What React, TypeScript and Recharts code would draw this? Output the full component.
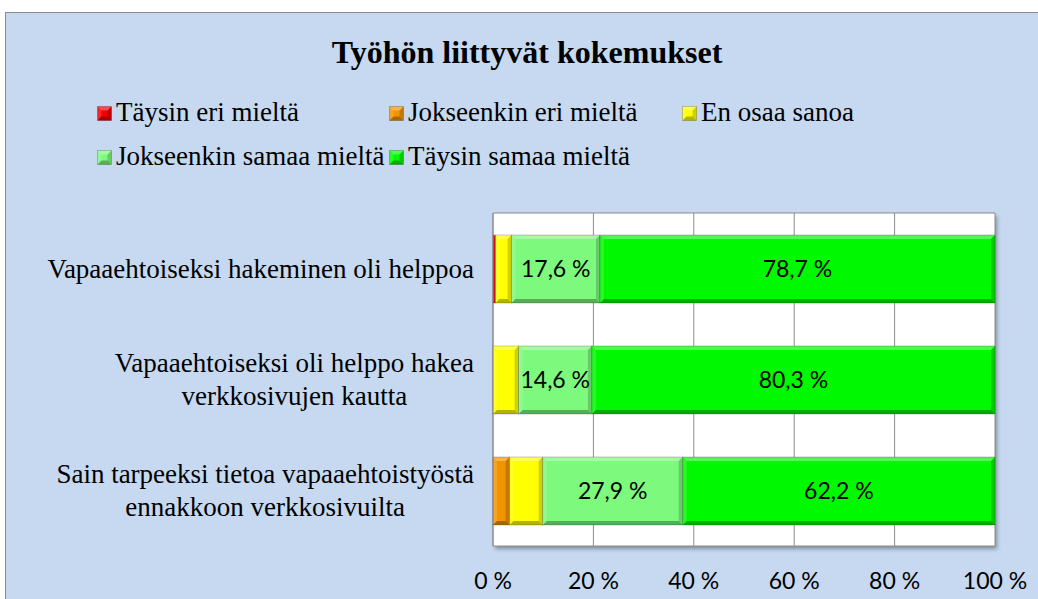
// Työhön liittyvät kokemukset – 100 % stacked horizontal bars
import React from "react";
import {
  BarChart,
  Bar,
  XAxis,
  YAxis,
  CartesianGrid,
  LabelList,
} from "recharts";

const categories = [
  "Vapaaehtoiseksi hakeminen oli helppoa",
  "Vapaaehtoiseksi oli helppo hakea\nverkkosivujen kautta",
  "Sain tarpeeksi tietoa vapaaehtoistyöstä\nennakkoon verkkosivuilta",
];

const seriesNames = [
  "Täysin eri mieltä",
  "Jokseenkin eri mieltä",
  "En osaa sanoa",
  "Jokseenkin samaa mieltä",
  "Täysin samaa mieltä",
];
const seriesColors = ["#F00000", "#F29400", "#FFFF00", "#7DFA7D", "#00F800"];

const taysinEri = [0.5, 0, 0];
const jokseenkinEri = [0, 0, 3.3];
const enOsaa = [3.2, 5.1, 6.6];
const jokseenkinSamaa = [17.6, 14.6, 27.9];
const taysinSamaa = [78.7, 80.3, 62.2];

const xTicks = [0, 20, 40, 60, 80, 100];

const seriesValues = [taysinEri, jokseenkinEri, enOsaa, jokseenkinSamaa, taysinSamaa];
const data = categories.map((name, i) => {
  const row: Record<string, number | string> = { name };
  seriesValues.forEach((vals, s) => (row["s" + s] = vals[i]));
  return row;
});

const serif = "'Liberation Serif', 'Times New Roman', serif";
const sans = "Lato, 'Open Sans', sans-serif";

// bevelled rectangle like the Excel 3D bar style
function BevelBar(props: any) {
  const { x, y, width, height, fill } = props;
  if (!width || width <= 0.3) return null;
  const b = Math.min(4, width / 2, height / 2);
  const r = x + width;
  const btm = y + height;
  return (
    <g>
      <rect x={x} y={y} width={width} height={height} fill={fill} />
      <polygon
        points={`${x},${y} ${r},${y} ${r - b},${y + b} ${x + b},${y + b}`}
        fill="#fff"
        fillOpacity={0.3}
      />
      <polygon
        points={`${x},${y} ${x + b},${y + b} ${x + b},${btm - b} ${x},${btm}`}
        fill="#fff"
        fillOpacity={0.15}
      />
      <polygon
        points={`${r},${y} ${r},${btm} ${r - b},${btm - b} ${r - b},${y + b}`}
        fill="#000"
        fillOpacity={0.18}
      />
      <polygon
        points={`${x},${btm} ${r},${btm} ${r - b},${btm - b} ${x + b},${btm - b}`}
        fill="#000"
        fillOpacity={0.3}
      />
      <rect
        x={x}
        y={y}
        width={width}
        height={height}
        fill="none"
        stroke="#000"
        strokeOpacity={0.25}
        strokeWidth={0.8}
      />
    </g>
  );
}

let measureCtx: CanvasRenderingContext2D | null = null;
function textWidth(t: string, font: string) {
  if (!measureCtx) measureCtx = document.createElement("canvas").getContext("2d");
  if (!measureCtx) return t.length * 10;
  measureCtx.font = font;
  return measureCtx.measureText(t).width;
}

function CategoryTick(props: any) {
  const { x, y, payload } = props;
  const lines = String(payload.value).split("\n");
  const maxW = Math.max(...lines.map((l) => textWidth(l, `27px ${serif}`)));
  const cx = x - maxW / 2;
  const lh = 33;
  const start = y - ((lines.length - 1) * lh) / 2;
  return (
    <text
      x={cx}
      y={start}
      textAnchor="middle"
      fontFamily={serif}
      fontSize={27}
      fill="#000"
      dominantBaseline="central"
    >
      {lines.map((l, i) => (
        <tspan key={i} x={cx} y={start + i * lh}>
          {l}
        </tspan>
      ))}
    </text>
  );
}

function LegendSquare({ color }: { color: string }) {
  return (
    <svg width={15} height={15} style={{ marginRight: 4, marginTop: 3 }}>
      <BevelBar x={0.5} y={0.5} width={14} height={14} fill={color} />
    </svg>
  );
}

const legendRows = [
  [0, 1, 2],
  [3, 4],
];
const legendCols = [97, 389, 682];

export default function App() {
  return (
    <div style={{ position: "absolute", left: 0, top: 0, width: 1038, height: 599, overflow: "hidden" }}>
      <div
        style={{
          position: "absolute",
          left: 5,
          top: 12,
          width: 1040,
          height: 600,
          background: "#C6D9F1",
          border: "1px solid #8C8C8C",
        }}
      />
      <div
        style={{
          position: "absolute",
          left: 0,
          top: 33,
          width: 1054,
          textAlign: "center",
          fontFamily: serif,
          fontWeight: "bold",
          fontSize: 32,
          lineHeight: "38px",
        }}
      >
        Työhön liittyvät kokemukset
      </div>
      {legendRows.map((row, ri) =>
        row.map((s, ci) => (
          <div
            key={s}
            style={{
              position: "absolute",
              left: legendCols[ci],
              top: 97 + ri * 44,
              height: 30,
              display: "flex",
              alignItems: "center",
              fontFamily: serif,
              fontSize: 27,
              whiteSpace: "nowrap",
            }}
          >
            <LegendSquare color={seriesColors[s]} />
            {seriesNames[s]}
          </div>
        ))
      )}
      <div
        style={{
          position: "absolute",
          left: 493,
          top: 213,
          width: 502,
          height: 333,
          background: "#fff",
          boxShadow: "2px 3px 4px rgba(0,0,0,0.35)",
        }}
      />
      <div style={{ position: "absolute", left: 0, top: 0 }}>
        <BarChart
          width={1038}
          height={599}
          data={data}
          layout="vertical"
          margin={{ top: 213, right: 43, bottom: 0, left: 0 }}
          barSize={68}
        >
          <CartesianGrid
            stroke="#8C8C8C"
            horizontalCoordinatesGenerator={({ offset }: any) => [
              offset.top,
              offset.top + offset.height,
            ]}
          />
          <XAxis
            type="number"
            domain={[0, 100]}
            ticks={xTicks}
            tickFormatter={(v) => `${v} %`}
            axisLine={false}
            tickLine={false}
            height={53}
            tickMargin={21}
            tick={{ fontFamily: sans, fontSize: 23, fill: "#000" }}
            interval={0}
          />
          <YAxis
            type="category"
            dataKey="name"
            width={493}
            axisLine={{ stroke: "#8C8C8C" }}
            tickLine={false}
            tickMargin={13}
            tick={<CategoryTick />}
            interval={0}
          />
          {seriesNames.map((n, s) => (
            <Bar
              key={n}
              dataKey={"s" + s}
              name={n}
              stackId="a"
              fill={seriesColors[s]}
              shape={<BevelBar />}
              isAnimationActive={false}
            >
              {s >= 3 && (
                <LabelList
                  dataKey={"s" + s}
                  position="center"
                  formatter={(v: any) => `${String(v).replace(".", ",")} %`}
                  style={{ fontFamily: sans, fontSize: 23, fill: "#000" }}
                />
              )}
            </Bar>
          ))}
        </BarChart>
      </div>
    </div>
  );
}
